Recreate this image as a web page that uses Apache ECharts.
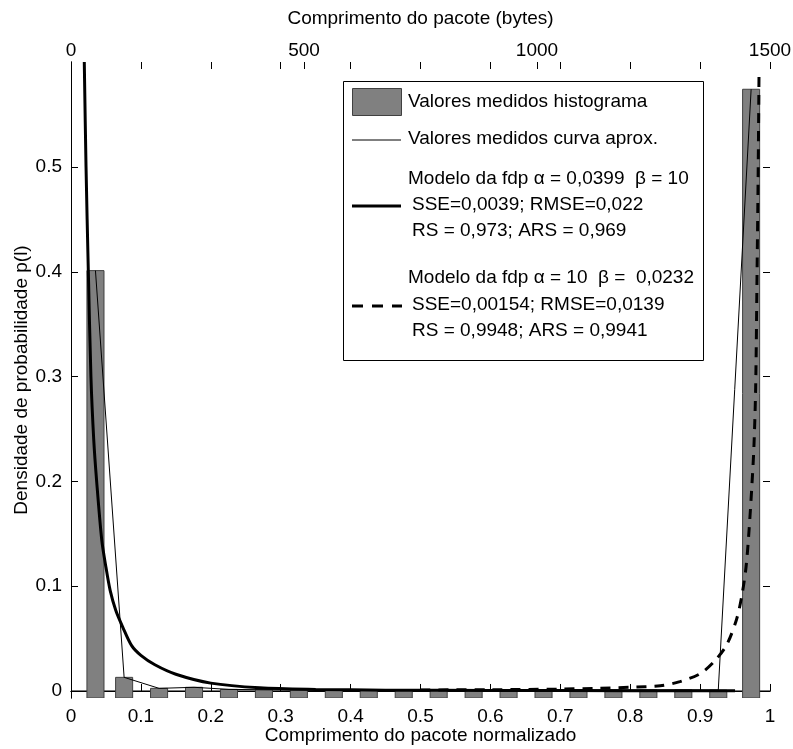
<!DOCTYPE html>
<html>
<head>
<meta charset="utf-8">
<script src="https://cdn.jsdelivr.net/npm/echarts@6.0.0/dist/echarts.min.js"></script>
<style>
html,body{margin:0;padding:0;background:#fff;}
#chart{width:793px;height:749px;}
</style>
</head>
<body>
<div id="chart"></div>
<script>
// ---- data ----
const barCenters = [0.035, 0.076, 0.126, 0.176, 0.226, 0.276, 0.326, 0.376, 0.426, 0.476,
                    0.526, 0.576, 0.626, 0.676, 0.726, 0.776, 0.826, 0.876, 0.926, 0.973];
const barValues  = [0.401, 0.013, 0.0025, 0.0035, 0.0015, 0.0012, 0.001, 0.001, 0.0008, 0.0008,
                    0.0008, 0.0008, 0.0008, 0.0008, 0.001, 0.001, 0.001, 0.001, 0.0008, 0.574];

const fitAX = [0.019, 0.0215, 0.0248, 0.0285, 0.0325, 0.0367, 0.044, 0.05, 0.056, 0.064, 0.074,
               0.087, 0.1, 0.12, 0.15, 0.2, 0.27, 0.35, 0.45, 0.6, 0.8, 0.95];
const fitAY = [0.6, 0.5, 0.4, 0.3, 0.24, 0.2, 0.144, 0.118, 0.096, 0.077, 0.061,
               0.043, 0.034, 0.025, 0.016, 0.0075, 0.003, 0.0015, 0.0008, 0.0005, 0.0003, 0.0002];

const fitBX = [0.5, 0.6, 0.7, 0.75, 0.8, 0.843, 0.871, 0.9, 0.92, 0.938, 0.952, 0.9595, 0.9657,
               0.97, 0.974, 0.977, 0.9795, 0.9815, 0.983, 0.9843];
const fitBY = [0.001, 0.0012, 0.0018, 0.0025, 0.0035, 0.005, 0.0089, 0.0165, 0.028, 0.044, 0.068,
               0.09, 0.118, 0.153, 0.195, 0.233, 0.29, 0.4, 0.49, 0.59];

const yTickValues = [0, 0.1, 0.2, 0.3, 0.4, 0.5];
const topTickValues = [0, 500, 1000, 1500];

const xTitle = 'Comprimento do pacote normalizado';
const topTitle = 'Comprimento do pacote (bytes)';
const yTitle = 'Densidade de probabilidade p(l)';
const legendHist = 'Valores medidos histograma';
const legendCurve = 'Valores medidos curva aprox.';
const legendA = ['Modelo da fdp \u03b1 = 0,0399  \u03b2 = 10', 'SSE=0,0039; RMSE=0,022', 'RS = 0,973; ARS = 0,969'];
const legendB = ['Modelo da fdp \u03b1 = 10  \u03b2 =  0,0232', 'SSE=0,00154; RMSE=0,0139', 'RS = 0,9948; ARS = 0,9941'];

// ---- chart ----
const Y_MIN = -0.0067, Y_MAX = 0.6;
const TICK = 7;
const FONT = '"Liberation Sans", Arial, Helvetica, sans-serif';
const FS = 19;
const chart = echarts.init(document.getElementById('chart'), null, {renderer: 'canvas'});

const axisLineBlack = {show: true, lineStyle: {color: '#000', width: 1}};
const txt = {color: '#000', fontFamily: FONT, fontSize: FS};
const crisp = v => Math.round(v) + 0.5;

function fmtX(v) {
  if (Math.abs(v) < 1e-9) return '0';
  if (Math.abs(v - 1) < 1e-9) return '1';
  return v.toFixed(1);
}

const legendText = (x, y, t) => ({
  type: 'text', left: x, top: y - 11, z: 101,
  style: {text: t, fill: '#000', font: FS + 'px ' + FONT}
});

const option = {
  animation: false,
  backgroundColor: '#fff',
  grid: {left: 71, right: 23, top: 62, bottom: 51, containLabel: false, outerBoundsMode: 'none'},
  xAxis: [
    {
      type: 'value', position: 'bottom', min: 0, max: 1, interval: 0.1,
      name: xTitle, nameLocation: 'middle', nameGap: 28, nameMoveOverlap: false, nameTextStyle: txt,
      axisLine: axisLineBlack,
      axisTick: {show: true, inside: true, length: TICK, lineStyle: {color: '#000'}},
      axisLabel: Object.assign({margin: 9, formatter: fmtX}, txt),
      splitLine: {show: false}
    },
    {
      type: 'value', position: 'top', min: 0, max: 1500, interval: 500,
      name: topTitle, nameLocation: 'middle', nameGap: 34, nameMoveOverlap: false, nameTextStyle: txt,
      axisLine: axisLineBlack,
      axisTick: {show: false},
      axisLabel: Object.assign({margin: 2, formatter: v => String(v)}, txt),
      splitLine: {show: false}
    },
    {
      type: 'value', position: 'top', offset: 0, min: 0, max: 1, interval: 0.1,
      axisLine: {show: false},
      axisTick: {show: true, inside: true, length: TICK, lineStyle: {color: '#000'}},
      axisLabel: {show: false},
      splitLine: {show: false}
    }
  ],
  yAxis: [
    {
      type: 'value', position: 'left', min: Y_MIN, max: Y_MAX,
      name: yTitle, nameLocation: 'middle', nameGap: 40, nameMoveOverlap: false, nameRotate: 90, nameTextStyle: txt,
      axisLine: axisLineBlack,
      axisTick: {show: false},
      axisLabel: Object.assign({margin: 9, customValues: yTickValues, formatter: fmtX}, txt),
      splitLine: {show: false}
    },
    {
      type: 'value', position: 'right', min: Y_MIN, max: Y_MAX,
      axisLine: axisLineBlack,
      axisTick: {show: false},
      axisLabel: {show: false},
      splitLine: {show: false}
    }
  ],
  series: [
    {
      name: 'baseline', type: 'line', xAxisIndex: 0, yAxisIndex: 0, z: 1,
      data: [[0, 0], [1, 0]], showSymbol: false, silent: true,
      lineStyle: {color: '#000', width: 1}
    },
    {
      name: legendHist, type: 'custom', xAxisIndex: 0, yAxisIndex: 0, z: 2, clip: true,
      data: barCenters.map((x, i) => [x, barValues[i]]),
      renderItem: function (params, api) {
        const x = api.value(0), v = api.value(1);
        const halfW = 0.0122;
        const p0 = api.coord([x - halfW, Y_MIN]);
        const p1 = api.coord([x + halfW, v]);
        return {
          type: 'rect',
          shape: {x: p0[0], y: p1[1], width: p1[0] - p0[0], height: p0[1] - p1[1]},
          style: {fill: '#808080', stroke: '#404040', lineWidth: 1}
        };
      }
    },
    {
      name: legendCurve, type: 'line', xAxisIndex: 0, yAxisIndex: 0, z: 3,
      data: barCenters.map((x, i) => [x, barValues[i]]), showSymbol: false,
      lineStyle: {color: '#000', width: 1}
    },
    {
      name: 'fitA', type: 'line', xAxisIndex: 0, yAxisIndex: 0, z: 4, clip: true,
      data: fitAX.map((x, i) => [x, fitAY[i]]), showSymbol: false, smooth: 0.3,
      lineStyle: {color: '#000', width: 3}
    },
    {
      name: 'fitB', type: 'line', xAxisIndex: 0, yAxisIndex: 0, z: 4, clip: true,
      data: fitBX.map((x, i) => [x, fitBY[i]]), showSymbol: false, smooth: 0.3,
      lineStyle: {color: '#000', width: 3, type: [10, 8]}
    },
    {
      // y tick marks (inside, left and right box edges)
      name: 'yTicks', type: 'custom', xAxisIndex: 0, yAxisIndex: 0, z: 6, silent: true, clip: false,
      data: yTickValues.map(v => [0, v]),
      renderItem: function (params, api) {
        const v = api.value(1);
        const pl = api.coord([0, v]);
        const pr = api.coord([1, v]);
        const y = crisp(pl[1]);
        return {type: 'group', children: [
          {type: 'line', shape: {x1: pl[0], y1: y, x2: pl[0] + TICK, y2: y}, style: {stroke: '#000', lineWidth: 1}},
          {type: 'line', shape: {x1: pr[0], y1: y, x2: pr[0] - TICK, y2: y}, style: {stroke: '#000', lineWidth: 1}}
        ]};
      }
    },
    {
      // top byte-axis tick marks (inside)
      name: 'topTicks', type: 'custom', xAxisIndex: 1, yAxisIndex: 0, z: 6, silent: true, clip: false,
      data: topTickValues.map(v => [v, Y_MAX]),
      renderItem: function (params, api) {
        const p = api.coord([api.value(0), Y_MAX]);
        const x = crisp(p[0]);
        return {type: 'line', shape: {x1: x, y1: p[1], x2: x, y2: p[1] + TICK}, style: {stroke: '#000', lineWidth: 1}};
      }
    }
  ],
  graphic: [
    {type: 'rect', left: 343, top: 81, z: 100,
     shape: {width: 360, height: 279}, style: {fill: '#fff', stroke: '#000', lineWidth: 1}},
    {type: 'rect', left: 352, top: 88, z: 101,
     shape: {width: 49, height: 27}, style: {fill: '#808080', stroke: '#404040', lineWidth: 1}},
    legendText(408, 103, legendHist),
    {type: 'line', z: 101, shape: {x1: 352, y1: 140, x2: 401, y2: 140}, style: {stroke: '#000', lineWidth: 1}},
    legendText(408, 140, legendCurve),
    legendText(408, 180, legendA[0]),
    {type: 'line', z: 101, shape: {x1: 352, y1: 206, x2: 401, y2: 206}, style: {stroke: '#000', lineWidth: 3}},
    legendText(412, 206, legendA[1]),
    legendText(412, 232, legendA[2]),
    legendText(408, 279, legendB[0]),
    {type: 'line', z: 101, shape: {x1: 352, y1: 306, x2: 402, y2: 306}, style: {stroke: '#000', lineWidth: 3, lineDash: [11, 9]}},
    legendText(412, 306, legendB[1]),
    legendText(412, 332, legendB[2])
  ]
};
chart.setOption(option);
</script>
</body>
</html>
